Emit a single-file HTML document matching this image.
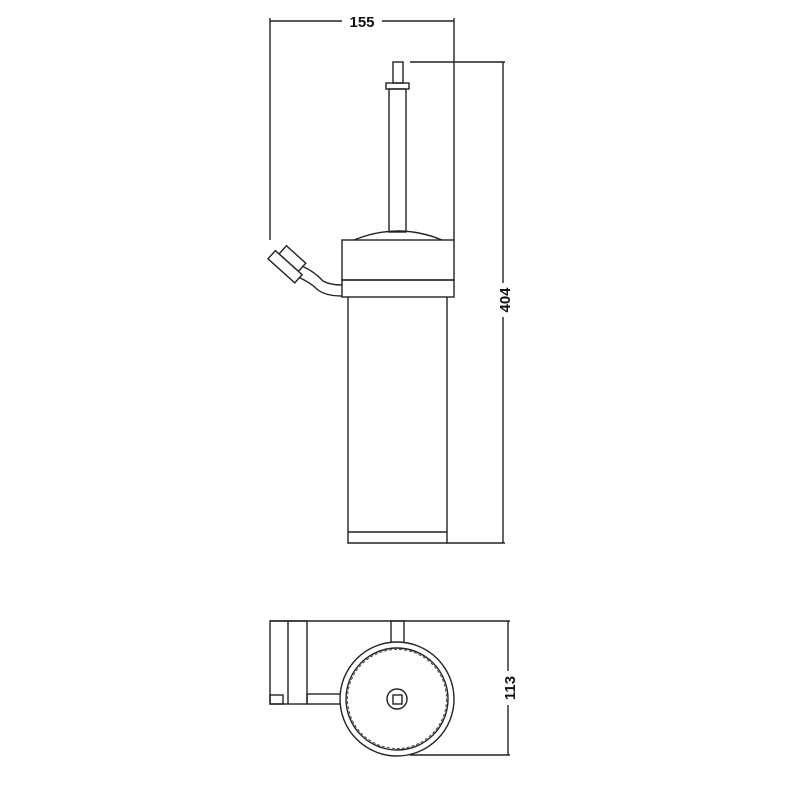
<!DOCTYPE html><html><head><style>body{margin:0;background:#fff}</style></head><body>
<svg width="800" height="800" viewBox="0 0 800 800" xmlns="http://www.w3.org/2000/svg" font-family="Liberation Sans, sans-serif">
<g fill="none" stroke="#222" stroke-width="1.4">
<line x1="270" y1="21" x2="454" y2="21"/>
<line x1="270" y1="18" x2="270" y2="240"/>
<line x1="454" y1="18" x2="454" y2="240"/>
<rect x="393" y="62" width="10" height="21"/>
<rect x="386" y="83" width="23" height="6"/>
<rect x="389" y="89" width="17" height="143"/>
<path d="M354 240 Q398 222 442 240"/>
<rect x="342" y="240" width="112" height="40"/>
<rect x="342" y="280" width="112" height="17"/>
<path d="M348 297 V543 H447 V297"/>
<line x1="348" y1="532" x2="447" y2="532"/>
<path d="M302 266 Q315 272 323 281 Q330 285 342 285"/>
<path d="M296 276 Q310 282 318 290 Q326 296 342 296"/>
<g transform="rotate(42 288 262)">
<rect x="276" y="251" width="26" height="11" fill="#fff"/>
<rect x="271" y="262" width="36" height="11" fill="#fff"/>
</g>
<line x1="410" y1="62" x2="505" y2="62"/>
<line x1="503" y1="62" x2="503" y2="543"/>
<line x1="447" y1="543" x2="505" y2="543"/>
<line x1="270" y1="621" x2="510" y2="621"/>
<rect x="270" y="621" width="37" height="83"/>
<line x1="288" y1="621" x2="288" y2="704"/>
<rect x="270" y="695" width="13" height="9"/>
<rect x="307" y="694" width="34" height="10"/>
<rect x="391" y="621" width="13" height="22"/>
<circle cx="397" cy="699" r="57" fill="#fff"/>
<circle cx="397" cy="699" r="51"/>
<circle cx="397" cy="699" r="49.5" stroke-dasharray="3 2" stroke-width="0.8"/>
<circle cx="397" cy="699" r="10"/>
<rect x="393" y="695" width="9" height="9"/>
<line x1="508" y1="621" x2="508" y2="755"/>
<line x1="410" y1="755" x2="510" y2="755"/>
</g>
<g font-weight="bold" font-size="15" fill="#111">
<rect x="342" y="12" width="40" height="18" fill="#fff"/>
<text x="362" y="27" text-anchor="middle">155</text>
<rect x="495" y="283" width="18" height="34" fill="#fff"/>
<text transform="translate(510 300) rotate(-90)" text-anchor="middle">404</text>
<rect x="500" y="671" width="18" height="34" fill="#fff"/>
<text transform="translate(515 688) rotate(-90)" text-anchor="middle">113</text>
</g>
</svg></body></html>
